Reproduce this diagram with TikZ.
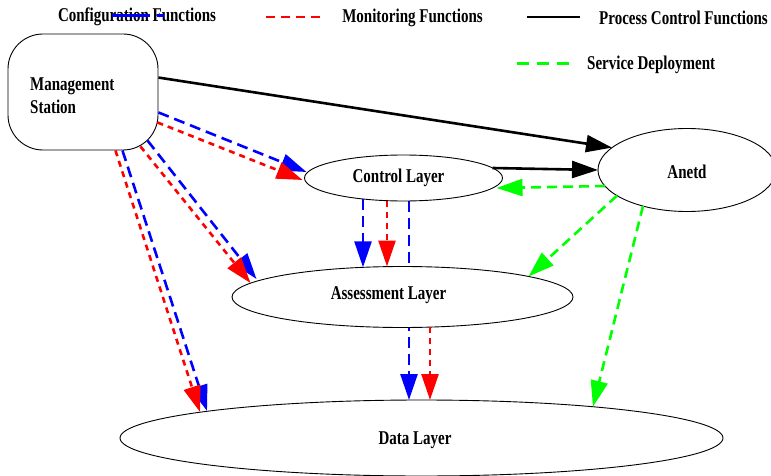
\documentclass[tikz,border=0pt]{standalone}
\usepackage{fontspec}
\setmainfont{Liberation Serif}
\usetikzlibrary{arrows.meta,shapes.geometric,calc,backgrounds}
% labels are set in a tall, narrow bold face
\newcommand{\tallbf}[1]{\scalebox{1}[1.3]{#1}}
\tikzset{
  lbl/.style={font=\fontsize{15}{23}\selectfont\bfseries, inner sep=0pt},
  shp/.style={draw, line width=0.9pt, fill=white, inner sep=0pt},
  oval/.style={shp, ellipse},
  tip/.style={-{Triangle[length=26pt,width=17pt]}},
  cfg/.style={tip, draw=blue, line width=2.6pt, dash pattern=on 11pt off 6pt},
  mon/.style={tip, draw=red, line width=2.6pt, dash pattern=on 6pt off 5pt},
  ctrl/.style={tip, draw=black, line width=2.6pt},
  dep/.style={tip, draw=green, line width=2.6pt, dash pattern=on 10pt off 6pt},
}
\begin{document}
\begin{tikzpicture}[x=1pt,y=-1pt]
\useasboundingbox (0,0) rectangle (771,476);

% nodes
\node[shp, rounded corners=35pt, minimum width=150pt, minimum height=116pt] (ms) at (83,92) {};
\node[lbl, anchor=west, align=left] (mst) at (30,96) {\tallbf{Management}\\\tallbf{Station}};
\node[oval, minimum width=198pt, minimum height=46pt] (ctl) at (403.5,178) {};
\node[lbl] (ctlt) at (398.5,178) {\tallbf{Control Layer}};
\node[oval, minimum width=178pt, minimum height=83pt] (an) at (687,170) {};
\node[lbl] (ant) at (687,172) {\tallbf{Anetd}};
\node[oval, minimum width=341pt, minimum height=61pt] (asl) at (402.5,297) {};
\node[lbl] (aslt) at (388.5,295) {\tallbf{Assessment Layer}};
\node[oval, minimum width=603pt, minimum height=76pt] (dl) at (421.5,438) {};
\node[lbl] (dlt) at (415,440) {\tallbf{Data Layer}};

% configuration path from the control layer straight down to the data layer,
% hidden behind the assessment layer
\begin{pgfonlayer}{background}
\draw[cfg] ($(ctl.center)+(5.5,23)$) -- ($(dl.center)+(-12.5,-38)$);
\end{pgfonlayer}

% process control
\draw[ctrl] ($(ms.north east)+(0,44)$) -- ($(an.center)+(-75,-22.4)$);
\draw[ctrl] ($(ctl.center)+(89,-10)$) -- ($(an.center)+(-89,0)$);

% service deployment
\draw[dep] ($(an.center)+(-82,16)$) -- ($(ctl.center)+(93,10)$);
\draw[dep] ($(an.center)+(-70,25.6)$) -- ($(asl.center)+(126,-20.5)$);
\draw[dep] ($(an.center)+(-44,36)$) -- ($(dl.center)+(171.5,-31.3)$);

% management station to the layers
\draw[cfg] ($(ms.south east)+(0,-38)$) -- ($(ctl.center)+(-97,-6)$);
\draw[mon] ($(ms.south east)+(-1,-28)$) -- ($(ctl.center)+(-101,2)$);
\draw[cfg] ($(ms.south east)+(-11,-10)$) -- ($(asl.center)+(-146,-18)$);
\draw[mon] ($(ms.south east)+(-18,-4)$) -- ($(asl.center)+(-152,-14)$);
\draw[cfg] ($(ms.south east)+(-36,0)$) -- ($(dl.center)+(-214.5,-27)$);
\draw[mon] ($(ms.south east)+(-43,0)$) -- ($(dl.center)+(-221.5,-26)$);

% control layer to assessment layer
\draw[cfg] ($(ctl.center)+(-40.5,21)$) -- ($(asl.center)+(-39.5,-29.7)$);
\draw[mon] ($(ctl.center)+(-16.5,23)$) -- ($(asl.center)+(-15.5,-30.5)$);

% assessment layer to data layer
\draw[mon] ($(asl.center)+(27.5,30)$) -- ($(dl.center)+(8.5,-38)$);

% legend
\node[lbl] (lg1) at (137,17) {\tallbf{Configuration Functions}};
\coordinate (k1a) at (112,15.5);
\coordinate (k1b) at (164,15.5);
\draw[blue, line width=2.2pt, dash pattern=on 38pt off 7pt on 8pt off 7pt] (k1a) -- (k1b);

\coordinate (k2a) at (266,17);
\coordinate (k2b) at (320,17);
\draw[red, line width=2.4pt, dash pattern=on 9pt off 6pt] (k2a) -- (k2b);
\node[lbl] (lg2) at (412.5,18) {\tallbf{Monitoring Functions}};

\coordinate (k3a) at (527,17);
\coordinate (k3b) at (580,17);
\draw[black, line width=2.4pt] (k3a) -- (k3b);
\node[lbl, anchor=west] (lg3) at (599,18) {\tallbf{Process Control Functions}};

\coordinate (k4a) at (517,63.5);
\coordinate (k4b) at (569,63.5);
\draw[green, line width=2.4pt, dash pattern=on 12pt off 8pt] (k4a) -- (k4b);
\node[lbl, anchor=west] (lg4) at (587,65) {\tallbf{Service Deployment}};
\end{tikzpicture}
\end{document}
